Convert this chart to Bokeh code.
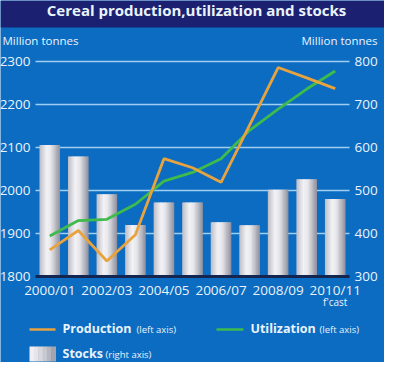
from bokeh.plotting import figure
from bokeh.models import ColumnDataSource, Range1d, LinearAxis, FixedTicker
from bokeh.transform import dodge
from bokeh.core.properties import value
from bokeh.embed import file_html
from bokeh.resources import INLINE

# ---- data ----
categories = ["2000/01", "2001/02", "2002/03", "2003/04", "2004/05", "2005/06",
              "2006/07", "2007/08", "2008/09", "2009/10", "2010/11"]
production = [1862, 1907, 1836, 1897, 2074, 2053, 2019, 2152, 2286, 2262, 2237]
utilization = [1894, 1930, 1933, 1968, 2022, 2042, 2074, 2140, 2189, 2236, 2278]
stocks = [606, 579, 491, 420, 472, 472, 426, 419, 502, 526, 480]
left_ticks = [1800, 1900, 2000, 2100, 2200, 2300]
right_ticks = [300, 400, 500, 600, 700, 800]
label_ticks = [0, 2, 4, 6, 8, 10]
fcast_tick = [10]

# ---- style / layout ----
BLUE = "#0b6cc1"
NAVY = "#1b2170"
TXT = "#eaf3fc"
ORANGE = "#e8a23e"
GREEN = "#3fba4c"
GRID = "#9fcdf3"
FONT = "Open Sans"

W, H = 384, 362
FL, FR, FT, FB = 35, 349, 61, 276       # chart area inside the canvas (px)
n = len(categories)
xs = (FR - FL) / n                       # px per category
ys = (FB - FT) / (left_ticks[-1] - left_ticks[0])   # px per tonne unit
x0 = -0.5 - FL / xs
x1 = n - 0.5 + (W - FR) / xs
y0 = left_ticks[0] - (H - FB) / ys
y1 = left_ticks[-1] + FT / ys
r_shift = right_ticks[0] - left_ticks[0]


def px(xp):
    return x0 + xp / xs


def py(yp):
    return y1 - yp / ys


src = ColumnDataSource(dict(x=list(range(n)), cat=categories, production=production,
                            utilization=utilization, stocks=stocks))

p = figure(width=W, height=H, x_range=Range1d(x0, x1), y_range=Range1d(y0, y1),
           output_backend="svg", toolbar_location=None, min_border=0)
p.extra_y_ranges = {"stocks": Range1d(y0 + r_shift, y1 + r_shift)}
p.background_fill_color = BLUE
p.border_fill_color = BLUE
p.outline_line_color = None
p.grid.visible = False

# title band
p.quad(left=[x0], right=[x1], bottom=[py(27)], top=[y1], fill_color=NAVY, line_color=None)
p.text(x=[px(196)], y=[py(9)], text=["Cereal production,utilization and stocks"],
       text_font=value(FONT), text_font_style="bold", text_font_size="15px",
       text_color=TXT, text_align="center", text_baseline="middle")
p.text(x=[px(2), px(377)], y=[py(40), py(40)], text=["Million tonnes", "Million tonnes"],
       text_font=value(FONT), text_font_size="11.5px", text_color=TXT,
       text_align=["left", "right"], text_baseline="middle")

# grid lines
p.segment(x0=-0.5, x1=n - 0.5, y0=left_ticks[1:], y1=left_ticks[1:],
          line_color=GRID, line_width=1.6)


# bars with cylinder shading (thin strips)
def hex2rgb(h):
    return tuple(int(h[i:i + 2], 16) for i in (1, 3, 5))


stops = [(0.0, "#bdbdc6"), (0.35, "#f3f3f6"), (0.55, "#e8e8ec"), (1.0, "#8f8f9c")]


def shade_at(t):
    for (ta, ca), (tb, cb) in zip(stops[:-1], stops[1:]):
        if ta <= t <= tb:
            f = (t - ta) / (tb - ta)
            a, b = hex2rgb(ca), hex2rgb(cb)
            return "#%02x%02x%02x" % tuple(round(a[i] + (b[i] - a[i]) * f) for i in range(3))
    return stops[-1][1]


bw = 0.72
ns = 16
sw = bw / ns
for k in range(ns):
    off = -bw / 2 + sw * (k + 0.5)
    wk = sw * 1.6 if k < ns - 1 else sw
    p.vbar(x=dodge("x", off + (wk - sw) / 2), top="stocks", bottom=right_ticks[0], width=wk,
           source=src, y_range_name="stocks", fill_color=shade_at((k + 0.5) / ns),
           line_color=None)

# dark base line
p.segment(x0=-0.5, x1=n - 0.5, y0=left_ticks[0], y1=left_ticks[0],
          line_color="#14254f", line_width=3)

p.line("x", "utilization", source=src, line_color=GREEN, line_width=2.8)
p.line("x", "production", source=src, line_color=ORANGE, line_width=2.8)

# axes (fixed at the chart-area edges)
p.yaxis.ticker = FixedTicker(ticks=left_ticks)
p.yaxis.fixed_location = -0.5
ra = LinearAxis(y_range_name="stocks", ticker=FixedTicker(ticks=right_ticks),
                fixed_location=n - 0.5)
p.add_layout(ra, "right")
p.xaxis.ticker = FixedTicker(ticks=label_ticks)
p.xaxis.major_label_overrides = {i: categories[i] for i in label_ticks}
p.xaxis.fixed_location = left_ticks[0]
fa = LinearAxis(ticker=FixedTicker(ticks=fcast_tick), fixed_location=left_ticks[0],
                major_label_overrides={fcast_tick[0]: "f'cast"})
p.add_layout(fa, "below")
for ax in p.axis:
    ax.axis_line_color = None
    ax.major_tick_line_color = None
    ax.minor_tick_line_color = None
    ax.major_tick_out = 0
    ax.major_tick_in = 0
    ax.minor_tick_out = 0
    ax.minor_tick_in = 0
    ax.major_label_text_color = TXT
    ax.major_label_text_font = FONT
    ax.major_label_text_font_size = "13.5px"
p.yaxis.major_label_standoff = 5
p.xaxis.major_label_standoff = 4
fa.major_label_text_font_size = "10px"
fa.major_label_standoff = 18

# legend
p.line(x=[px(29), px(55)], y=[py(329)] * 2, line_color=ORANGE, line_width=2.5)
p.line(x=[px(216), px(243)], y=[py(329)] * 2, line_color=GREEN, line_width=2.5)
sshade = ["#f0eef2", "#e6e4ea", "#d8d8de", "#c8c8d0", "#b6b6be", "#a4a4ae"]
sx0, sx1 = 29, 55
swid = (sx1 - sx0) / len(sshade)
for k, c in enumerate(sshade):
    p.quad(left=[px(sx0 + k * swid)], right=[px(sx0 + (k + 1) * swid + 0.5)],
           bottom=[py(361)], top=[py(346)], fill_color=c, line_color=None)
p.text(x=[px(62), px(250), px(62)], y=[py(328), py(328), py(353)],
       text=["Production", "Utilization", "Stocks"],
       text_font=value(FONT), text_font_style="bold", text_font_size="12.5px",
       text_color=TXT, text_baseline="middle")
p.text(x=[px(136), px(319), px(105)], y=[py(329), py(329), py(354)],
       text=["(left axis)", "(left axis)", "(right axis)"],
       text_font=value(FONT), text_font_size="9.5px",
       text_color=TXT, text_baseline="middle")

open("out.html", "w").write(file_html(p, INLINE))
